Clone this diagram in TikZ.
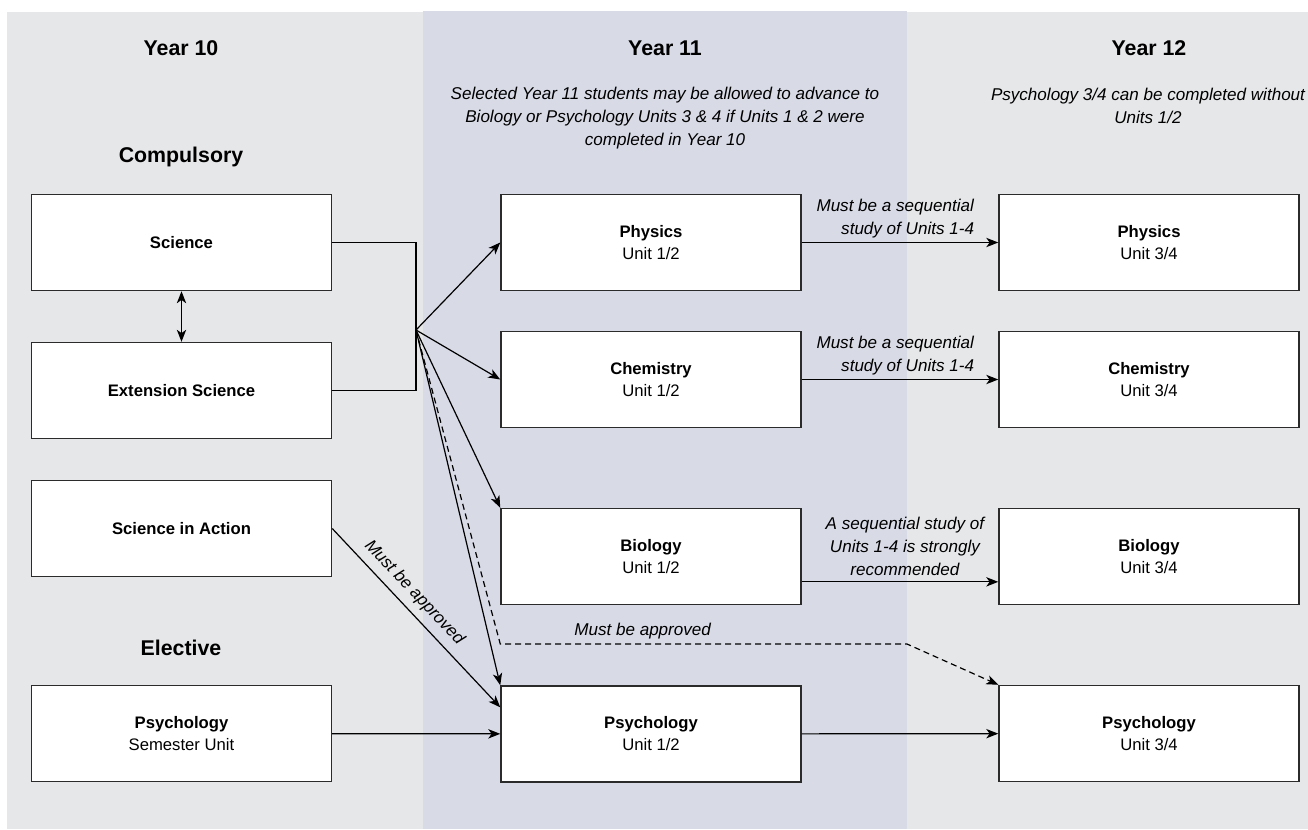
\documentclass[tikz,border=0pt]{standalone}
\usepackage{fontspec}
\setmainfont{Liberation Sans}
\usepackage{xcolor}
\usepackage{tikz}
\usetikzlibrary{arrows.meta}
\definecolor{pagegray}{HTML}{E6E7E9}
\definecolor{yearblue}{HTML}{D8DAE6}
\definecolor{boxline}{HTML}{2B2B2B}
\tikzset{
    unit_box/.style = {rectangle, draw=boxline, fill=white, line width=1.1pt, minimum width=225pt, minimum height=72pt, align=center, inner sep=0pt, font=\fontsize{12.5}{16.5}\selectfont},
    year_head/.style = {font=\fontsize{16}{19}\selectfont\bfseries},
    note_text/.style = {align=center, font=\fontsize{12.8}{17.25}\selectfont\itshape},
    seq_text/.style = {align=right, inner sep=3pt, font=\fontsize{12.8}{17.25}\selectfont\itshape},
    link/.style = {->, >={Stealth[length=9pt, width=7pt, inset=2.5pt]}, line width=0.9pt},
    maybe_link/.style = {link, dash pattern=on 4.5pt off 3pt}
}
\begin{document}
\begin{tikzpicture}[x=0.75pt, y=-0.75pt]
    \useasboundingbox (0,0) rectangle (1308,829);
    % columns
    \fill[pagegray] (7,12) rectangle (1308,829);
    \fill[yearblue] (423,11) rectangle (907,829);

    \node [year_head] (y10) at (181,48) {Year 10};
    \node [year_head] (y11) at (665,48) {Year 11};
    \node [year_head] (y12) at (1149,48) {Year 12};
    \node [year_head] (comp) at (181,157) {Compulsory};
    \node [year_head] (elect) at (181,648) {Elective};
    \node [note_text] (note11) at (665,118) {Selected Year 11 students may be allowed to advance to\\Biology or Psychology Units 3 \& 4 if Units 1 \& 2 were\\completed in Year 10};
    \node [note_text] (note12) at (1148,106) {Psychology 3/4 can be completed without\\Units 1/2};

    % year 10
    \node [unit_box] (sci) at (181.5,242.5) {\textbf{Science}};
    \node [unit_box] (ext) at (181.5,390.5) {\textbf{Extension Science}};
    \node [unit_box] (sia) at (181.5,528.5) {\textbf{Science in Action}};
    \node [unit_box] (psy_sem) at (181.5,733.5) {\textbf{Psychology}\\Semester Unit};
    % year 11
    \node [unit_box] (phy12) at (651,242.5) {\textbf{Physics}\\Unit 1/2};
    \node [unit_box] (chem12) at (651,379.5) {\textbf{Chemistry}\\Unit 1/2};
    \node [unit_box] (bio12) at (651,556.5) {\textbf{Biology}\\Unit 1/2};
    \node [unit_box] (psy12) at (651,734) {\textbf{Psychology}\\Unit 1/2};
    % year 12
    \node [unit_box] (phy34) at (1149,242.5) {\textbf{Physics}\\Unit 3/4};
    \node [unit_box] (chem34) at (1149,379.5) {\textbf{Chemistry}\\Unit 3/4};
    \node [unit_box] (bio34) at (1149,556.5) {\textbf{Biology}\\Unit 3/4};
    \node [unit_box] (psy34) at (1149,733.5) {\textbf{Psychology}\\Unit 3/4};

    \coordinate (fan) at (416,330);
    \coordinate (bend) at (907,644);
    \draw [line width=0.9pt] (sci.east) -| (fan) |- (ext.east);
    \draw [link, <->] (sci) -- (ext);
    \draw [link] (fan) -- (phy12.west);
    \draw [link] (fan) -- (chem12.west);
    \draw [link] (fan) -- (bio12.north west);
    \draw [link] (fan) -- (psy12.north west);
    \draw [maybe_link] (fan) -- (psy12.north west |- bend)
        -- node [note_text, above, pos=0.35] (appr2) {Must be approved} (bend) -- (psy34.north west);
    \draw [link] (sia.east) -- node [note_text, sloped, above=2pt, pos=0.42] (appr1) {Must be approved} ([yshift=20pt]psy12.west);
    \draw [link] (psy_sem) -- (psy12);
    \draw [link] (phy12) -- node [seq_text, anchor=south east, pos=0.9] (phy_note) {Must be a sequential\\study of Units 1-4} (phy34);
    \draw [link] (chem12) -- node [seq_text, anchor=south east, pos=0.9] (chem_note) {Must be a sequential\\study of Units 1-4} (chem34);
    \draw [link] ([yshift=-19pt]bio12.east) -- node [note_text, anchor=south, inner sep=4pt, pos=0.525] (bio_note) {A sequential study of\\Units 1-4 is strongly\\recommended} ([yshift=-19pt]bio34.west);
    \draw [link] (psy12) -- (psy34);
\end{tikzpicture}
\end{document}
